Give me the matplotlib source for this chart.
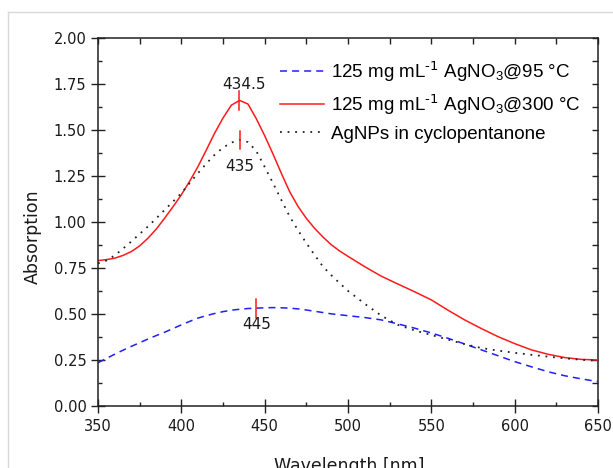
import matplotlib
matplotlib.use("Agg")
import matplotlib.pyplot as plt
from matplotlib.lines import Line2D
import numpy as np

plt.rcParams['font.family'] = ['DejaVu Sans']
plt.rcParams['mathtext.default'] = 'regular'

# wavelength grid (nm)
wl = [350, 355, 360, 365, 370, 375, 380, 385, 390, 395, 400, 405, 410, 415, 420, 425,
      430, 435, 440, 445, 450, 455, 460, 465, 470, 475, 480, 485, 490, 495, 500,
      510, 520, 530, 540, 550, 560, 570, 580, 590, 600, 610, 620, 630, 640, 650]

# 125 mg/mL AgNO3 @ 300 C  (red, solid)
abs_300 = [0.790, 0.795, 0.803, 0.818, 0.839, 0.870, 0.912, 0.962, 1.021, 1.083, 1.148,
           1.222, 1.302, 1.392, 1.484, 1.566, 1.636, 1.662, 1.642, 1.562, 1.470, 1.370,
           1.265, 1.165, 1.085, 1.020, 0.965, 0.918, 0.876, 0.842, 0.813,
           0.757, 0.705, 0.662, 0.620, 0.576, 0.520, 0.467, 0.420, 0.376, 0.338,
           0.304, 0.280, 0.262, 0.252, 0.249]

# AgNPs in cyclopentanone (black, dotted)
abs_np = [0.775, 0.790, 0.818, 0.855, 0.894, 0.935, 0.976, 1.020, 1.066, 1.111, 1.157,
          1.212, 1.266, 1.318, 1.366, 1.405, 1.432, 1.448, 1.435, 1.386, 1.300, 1.212,
          1.120, 1.030, 0.955, 0.885, 0.820, 0.757, 0.710, 0.667, 0.625,
          0.555, 0.490, 0.440, 0.410, 0.385, 0.360, 0.335, 0.314, 0.300, 0.288,
          0.277, 0.267, 0.258, 0.250, 0.244]

# 125 mg/mL AgNO3 @ 95 C  (blue, dashed)
abs_95 = [0.234, 0.257, 0.280, 0.302, 0.323, 0.343, 0.363, 0.382, 0.400, 0.420, 0.440,
          0.459, 0.477, 0.490, 0.502, 0.512, 0.520, 0.525, 0.529, 0.531, 0.533, 0.534,
          0.533, 0.531, 0.527, 0.521, 0.514, 0.507, 0.500, 0.495, 0.490,
          0.480, 0.467, 0.445, 0.422, 0.396, 0.367, 0.336, 0.304, 0.272, 0.240,
          0.212, 0.185, 0.163, 0.146, 0.131]

# peak markers: position, height, label
peak_x = [434.5, 435, 445]
peak_y = [1.662, 1.445, 0.529]
peak_lbl = ["434.5", "435", "445"]

W, H = 613, 468
fig = plt.figure(figsize=(W / 100, H / 100), dpi=100)
ax = fig.add_axes([98 / W, 1 - 405.7 / H, 500 / W, 367.4 / H])

# light grey panel frame
fig.add_artist(Line2D([8 / W, 8 / W], [0, 1 - 12 / H], color='#d9d9d9', lw=1.0))
fig.add_artist(Line2D([8 / W, 1], [1 - 12 / H, 1 - 12 / H], color='#d9d9d9', lw=1.0))

ax.plot(wl, abs_95, color='#1f1fff', lw=1.1, linestyle=(0, (4.6, 3.3)),
        label=r'125 mg mL$^{\text{-1}}$ AgNO$_3$@95 °C')
ax.plot(wl, abs_300, color='#ff1a1a', lw=1.1,
        label=r'125 mg mL$^{\text{-1}}$ AgNO$_3$@300 °C')
ax.plot(wl, abs_np, color='#222222', lw=1.3, linestyle=(0, (1, 3.2)),
        label='AgNPs in cyclopentanone')

# red peak ticks + labels
offsets = [(3.6, 8.2), (0, -22), (0, -14.7)]
for px, py, t, off in zip(peak_x, peak_y, peak_lbl, offsets):
    ax.plot([px, px], [py - 0.05, py + 0.05], color='#ff1a1a', lw=1.1)
    ax.annotate(t, xy=(px, py), xytext=off, textcoords='offset points',
                ha='center', va='baseline', fontsize=11, color='#1a1a1a')

ax.set_xlim(350, 650)
ax.set_ylim(0, 2.0)
ax.set_xticks(np.arange(350, 651, 50))
ax.set_xticks(np.arange(375, 651, 50), minor=True)
ax.set_yticks(np.arange(0, 2.01, 0.25))
ax.set_yticks(np.arange(0.125, 2.0, 0.25), minor=True)
ax.yaxis.set_major_formatter(matplotlib.ticker.FormatStrFormatter('%.2f'))

for s in ['top', 'right']:
    ax.spines[s].set_visible(False)
for s in ['left', 'bottom']:
    ax.spines[s].set_linewidth(1.1)
    ax.spines[s].set_color('#222222')

ax.tick_params(axis='both', which='major', direction='inout', length=10.5, width=1.0,
               color='#222222', labelsize=10.5, labelcolor='#1a1a1a')
ax.tick_params(axis='x', which='major', pad=4.5)
ax.tick_params(axis='y', which='major', pad=3)
ax.tick_params(axis='both', which='minor', direction='in', length=3, width=1.0,
               color='#222222')

# top/right axes: inward ticks every minor step
top = ax.secondary_xaxis('top')
top.set_xticks(np.arange(350, 651, 25))
top.tick_params(direction='in', length=4.5, width=1.0, labeltop=False, color='#222222')
top.spines['top'].set_linewidth(1.1)
top.spines['top'].set_color('#222222')
right = ax.secondary_yaxis('right')
right.set_yticks(np.arange(0, 2.01, 0.125))
right.tick_params(direction='in', length=4.5, width=1.0, labelright=False, color='#222222')
right.spines['right'].set_linewidth(1.1)
right.spines['right'].set_color('#222222')

ax.set_ylabel('Absorption', fontsize=12.5, color='#1a1a1a')
ax.yaxis.set_label_coords(-0.112, 0.459)
ax.set_xlabel('Wavelength [nm]', fontsize=12.5, color='#1a1a1a', va='top')
ax.xaxis.set_label_coords(0.503, -0.14)

ax.legend(loc='upper left', bbox_to_anchor=(280 / W, 1 - 59 / H),
          bbox_transform=fig.transFigure, frameon=False, borderpad=0,
          borderaxespad=0, handlelength=2.35, handletextpad=0.37, labelspacing=0.45,
          prop={'family': 'Liberation Sans', 'size': 13.5})

fig.savefig('out.png', dpi=100)
